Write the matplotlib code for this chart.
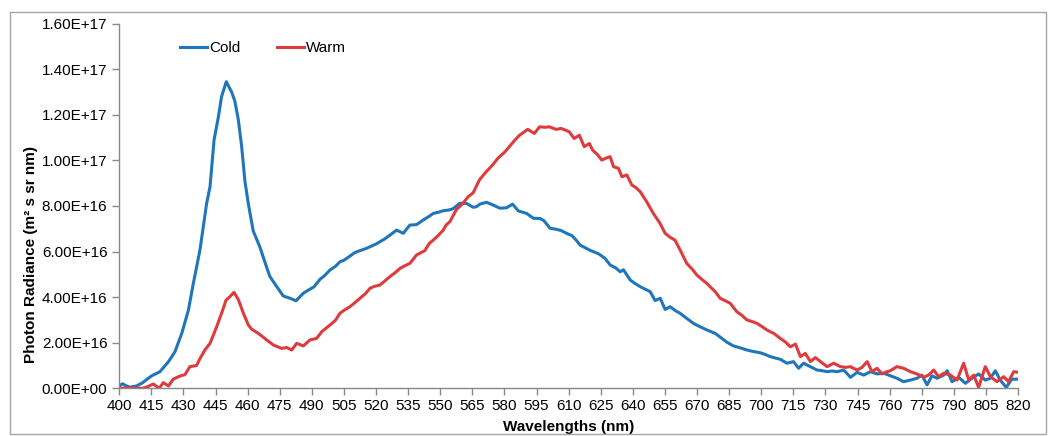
import matplotlib
matplotlib.use("Agg")
import matplotlib.pyplot as plt
from matplotlib.patches import Rectangle
from matplotlib.ticker import FuncFormatter, MultipleLocator

plt.rcParams['font.family'] = ['Liberation Sans', 'DejaVu Sans']

# Cold spectrum (wavelength nm, value in 1e16)
cold_nm = [400.0, 401.5, 403, 405, 408, 411, 413, 415, 419, 423, 426, 429.2, 432.3, 434.6, 437.7,
           440.8, 442.4, 444.3, 446.3, 447.8, 450, 452.5, 454, 455.6, 457.2, 458.7, 460.3, 462.6,
           465.7, 468.9, 470.4, 473.6, 476.6, 479.8, 482.6, 486, 489.1, 491, 493.8, 496, 498.5,
           501, 503.1, 505, 507.8, 510, 512.5, 515, 517.2, 520, 521.8, 524, 526.5, 529.6, 532.7,
           535.8, 538.9, 542, 544.9, 546.7, 549, 551.4, 554, 556, 559.2, 562.3, 565.4, 567, 568.5,
           571.6, 574.7, 577.9, 581, 583.8, 586.5, 590.4, 593.5, 596.6, 598.5, 601.3, 604, 606.5,
           609, 611.5, 613.5, 615.4, 618, 620.1, 624, 627, 629.4, 632, 634.1, 635.6, 638.8, 641,
           643.4, 646, 648.1, 650.4, 652.8, 655.1, 657.4, 660, 662.1, 665, 668.3, 671, 674.6,
           678.5, 681.6, 684, 687, 690, 693.3, 696, 699.5, 702, 704.2, 707, 709, 712, 715.1,
           717.5, 719.8, 723, 726.1, 728, 730.8, 733, 735.5, 738.6, 741.7, 744.8, 747.9, 751.1,
           754.1, 757.3, 760.3, 763.4, 766.5, 769.7, 772.8, 775.1, 777.5, 779.8, 782.2, 785.3,
           786.9, 789.2, 792.3, 795.4, 798.5, 801.6, 804.7, 807.1, 809.4, 811.7, 814.5, 817.1, 820]
cold_val = [0.10, 0.20, 0.12, 0.05, 0.10, 0.25, 0.40, 0.54, 0.73, 1.17, 1.60, 2.41, 3.43, 4.60, 6.07,
            8.10, 8.84, 10.9, 11.9, 12.8, 13.45, 13.0, 12.6, 11.8, 10.6, 9.1, 8.1, 6.9,
            6.2, 5.3, 4.9, 4.46, 4.05, 3.95, 3.84, 4.17, 4.35, 4.45, 4.78, 4.95, 5.19,
            5.35, 5.55, 5.62, 5.80, 5.95, 6.04, 6.12, 6.21, 6.33, 6.43, 6.55, 6.72, 6.94, 6.80,
            7.16, 7.18, 7.38, 7.55, 7.67, 7.72, 7.79, 7.82, 7.88, 8.12, 8.11, 7.94, 7.97, 8.08,
            8.16, 8.04, 7.90, 7.92, 8.08, 7.78, 7.67, 7.46, 7.45, 7.35, 7.02, 6.98, 6.92,
            6.80, 6.70, 6.50, 6.28, 6.15, 6.05, 5.90, 5.70, 5.41, 5.28, 5.11, 5.20, 4.75, 4.60,
            4.46, 4.34, 4.24, 3.85, 3.95, 3.46, 3.58, 3.40, 3.29, 3.08, 2.85, 2.72, 2.56,
            2.41, 2.19, 2.02, 1.86, 1.78, 1.68, 1.62, 1.56, 1.48, 1.39, 1.32, 1.27, 1.10, 1.17,
            0.88, 1.10, 0.95, 0.80, 0.78, 0.73, 0.76, 0.73, 0.80, 0.48, 0.70, 0.58, 0.73,
            0.63, 0.66, 0.55, 0.44, 0.29, 0.36, 0.44, 0.58, 0.15, 0.55, 0.44, 0.58,
            0.77, 0.29, 0.48, 0.22, 0.44, 0.63, 0.36, 0.44, 0.77, 0.36, 0.04, 0.40, 0.40]

# Warm spectrum (wavelength nm, value in 1e16)
warm_nm = [400, 405, 411, 413.5, 415.9, 418.6, 420.6, 423, 425.2, 428.4, 430.7, 433, 436.1, 437.7,
           440, 442.4, 445.5, 447.8, 449.9, 451.7, 453.6, 455.6, 458, 460.3, 461.9, 465, 468.9,
           472, 475.9, 478.2, 480.6, 482.9, 486, 489.1, 492.2, 494.6, 498.5, 501, 503.1, 505.5,
           507.8, 510, 512.5, 515, 517.2, 519.5, 521.8, 524, 526.5, 529, 531.2, 533.5, 535.8,
           537.1, 538.9, 542.8, 544.9, 546.7, 549, 551.4, 552.7, 554.5, 557.6, 560.5, 563, 565.4,
           568.3, 571, 574.5, 577, 580, 582.3, 584.5, 587, 590.9, 594, 596.4, 599, 601, 604.2,
           606.5, 609.2, 610.3, 612.6, 615, 617.3, 619.7, 621.2, 623.5, 625.5, 627.5, 629.4, 631,
           633.3, 634.9, 637.2, 639.5, 641.5, 643.4, 646.5, 649.6, 652.7, 655.1, 657.5, 659.7,
           662.1, 665.2, 668, 669.9, 672, 674.6, 676.5, 678.5, 680.8, 683, 685.5, 688.6, 691,
           693.3, 696, 698, 700.5, 702.6, 706, 708.9, 711.2, 713.6, 716, 718.3, 720.6, 723, 725.3,
           727.7, 730.8, 733.9, 737, 739.5, 741.7, 744.8, 747.1, 749.5, 751.8, 754.1, 756.5,
           758.5, 760.3, 763.4, 766.5, 769.7, 772.8, 775.9, 778.2, 780.6, 782.9, 785.3, 788.4,
           791.5, 794.6, 797, 799.3, 801.6, 804.7, 807.1, 810.2, 813.3, 815.6, 818, 820]
warm_val = [0.0, 0.02, 0.0, 0.08, 0.19, 0.0, 0.25, 0.10, 0.40, 0.54, 0.60, 0.95, 1.00, 1.30,
            1.68, 1.97, 2.70, 3.29, 3.87, 4.02, 4.21, 3.90, 3.29, 2.78, 2.59, 2.41, 2.12,
            1.90, 1.75, 1.79, 1.68, 1.97, 1.86, 2.12, 2.19, 2.48, 2.78, 2.98, 3.29, 3.45,
            3.58, 3.75, 3.95, 4.15, 4.39, 4.48, 4.53, 4.70, 4.90, 5.08, 5.26, 5.38, 5.48,
            5.63, 5.85, 6.04, 6.36, 6.50, 6.70, 6.94, 7.16, 7.31, 7.85, 8.10, 8.40, 8.58,
            9.14, 9.45, 9.80, 10.1, 10.35, 10.6, 10.85, 11.1, 11.36, 11.18, 11.47, 11.45, 11.47, 11.36,
            11.40, 11.30, 11.25, 10.96, 11.10, 10.60, 10.74, 10.45, 10.25, 10.01, 10.10, 10.16, 9.72,
            9.65, 9.28, 9.36, 8.92, 8.80, 8.63, 8.18, 7.67, 7.24, 6.80, 6.62, 6.50,
            6.07, 5.48, 5.20, 4.97, 4.80, 4.60, 4.42, 4.24, 3.95, 3.85, 3.73, 3.36, 3.20,
            3.00, 2.92, 2.85, 2.70, 2.56, 2.40, 2.19, 2.04, 1.82, 1.94, 1.39, 1.53, 1.17, 1.35,
            1.17, 0.95, 1.10, 0.95, 0.92, 0.95, 0.80, 0.92, 1.17, 0.73, 0.88, 0.63,
            0.72, 0.77, 0.95, 0.88, 0.73, 0.63, 0.48, 0.58, 0.80, 0.51, 0.66, 0.58,
            0.36, 1.10, 0.36, 0.58, 0.04, 0.95, 0.51, 0.29, 0.51, 0.29, 0.73, 0.70]

scale = 1e16
x_ticks = list(range(400, 821, 15))
series_names = ["Cold", "Warm"]
x_label = "Wavelengths (nm)"
y_label = "Photon Radiance (m² s sr nm)"

fig = plt.figure(figsize=(10.51, 4.36), dpi=100)
fig.patches.append(Rectangle((10 / 1051, 1 - 434 / 436), 1036 / 1051, 422 / 436,
                             transform=fig.transFigure, fill=False,
                             edgecolor='#a6a6a6', linewidth=1.0))
ax = fig.add_axes([0.1135, 0.1094, 0.8551, 0.8365])

ax.plot(cold_nm, [v * scale for v in cold_val], color='#1f76bb', lw=2.2, label=series_names[0])
ax.plot(warm_nm, [v * scale for v in warm_val], color='#df3b3e', lw=2.2, label=series_names[1])

ax.set_xlim(400, 820)
ax.set_ylim(0, 1.6e17)
ax.set_xticks(x_ticks)
ax.yaxis.set_major_locator(MultipleLocator(2e16))
ax.yaxis.set_major_formatter(FuncFormatter(lambda v, p: f"{v:.2E}"))
ax.xaxis.set_major_formatter(FuncFormatter(lambda v, p: f"{int(round(v))}"))

for s in ['top', 'right']:
    ax.spines[s].set_visible(False)
for s in ['left', 'bottom']:
    ax.spines[s].set_color('#888888')
    ax.spines[s].set_linewidth(1.0)
ax.tick_params(axis='both', direction='out', length=5, width=1.0, color='#888888',
               labelsize=11, labelcolor='#000000')
ax.tick_params(axis='x', pad=3)

ax.set_xlabel(x_label, fontsize=11, fontweight='bold', labelpad=5)
ax.set_ylabel(y_label, fontsize=11, fontweight='bold')
ax.yaxis.set_label_coords(-0.0905, 0.3655)

leg = ax.legend(loc='upper left', bbox_to_anchor=(0.052, 0.99), ncol=2, frameon=False,
                fontsize=11, handlelength=1.8, handletextpad=0.1, columnspacing=2.4)

fig.savefig("out.png", dpi=100)
